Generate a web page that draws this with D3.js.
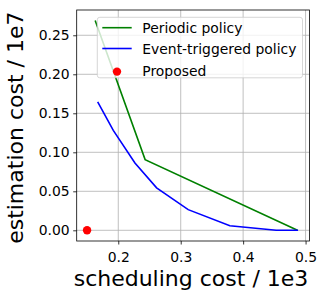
<!DOCTYPE html>
<html><head><meta charset="utf-8">
<script src="https://cdn.jsdelivr.net/npm/d3@7"></script>
<style>body{margin:0;background:#fff}svg{display:block}</style>
</head><body>
<svg id="c" width="325" height="300"></svg>
<script>
const periodicX = [0.163, 0.243, 0.487];
const periodicY = [0.269, 0.0906, 0.0];
const eventX = [0.167, 0.192, 0.2267, 0.2614, 0.312, 0.3787, 0.453, 0.488];
const eventY = [0.1645, 0.128, 0.0864, 0.0544, 0.0265, 0.0059, 0.0, 0.0];
const proposedX = [0.150];
const proposedY = [0.0];
const xTicks = [0.2, 0.3, 0.4, 0.5];
const yTicks = [0.00, 0.05, 0.10, 0.15, 0.20, 0.25];
const legendLabels = ["Periodic policy", "Event-triggered policy", "Proposed"];
const seriesColors = ["green", "blue", "red"];

const svg = d3.select("#c");
const L = 76.7, R = 309.5, T = 10, B = 241;
const x = d3.scaleLinear().domain([0.1334, 0.5063]).range([L, R]);
const y = d3.scaleLinear().domain([-0.0137, 0.2824]).range([B, T]);
const font = "DejaVu Sans, sans-serif";
const fs = 13.9;
const lfs = 22;

// grid
svg.append("g").selectAll("line").data(xTicks).join("line")
  .attr("x1", d => x(d)).attr("x2", d => x(d)).attr("y1", T).attr("y2", B)
  .attr("stroke", "#b0b0b0").attr("stroke-width", 0.8);
svg.append("g").selectAll("line").data(yTicks).join("line")
  .attr("y1", d => y(d)).attr("y2", d => y(d)).attr("x1", L).attr("x2", R)
  .attr("stroke", "#b0b0b0").attr("stroke-width", 0.8);

const line = d3.line().x(d => x(d[0])).y(d => y(d[1]));
svg.append("path").datum(d3.zip(periodicX, periodicY)).attr("d", line)
  .attr("fill", "none").attr("stroke", seriesColors[0]).attr("stroke-width", 1.6);
svg.append("path").datum(d3.zip(eventX, eventY)).attr("d", line)
  .attr("fill", "none").attr("stroke", seriesColors[1]).attr("stroke-width", 1.6);
svg.append("g").selectAll("circle").data(d3.zip(proposedX, proposedY)).join("circle")
  .attr("cx", d => x(d[0])).attr("cy", d => y(d[1])).attr("r", 4.2).attr("fill", seriesColors[2]);

// axes
const xa = svg.append("g").attr("transform", `translate(0,${B})`)
  .call(d3.axisBottom(x).tickValues(xTicks).tickFormat(d3.format(".1f")).tickSize(3.5).tickPadding(3.5));
const ya = svg.append("g").attr("transform", `translate(${L},0)`)
  .call(d3.axisLeft(y).tickValues(yTicks).tickFormat(d3.format(".2f")).tickSize(3.5).tickPadding(3.5));
[xa, ya].forEach(a => {
  a.select(".domain").remove();
  a.selectAll("line").attr("stroke", "#000").attr("stroke-width", 0.8);
  a.selectAll("text").attr("font-family", font).attr("font-size", fs).attr("fill", "#000");
});
xa.selectAll("text").attr("dy", null).attr("y", 20.7);
svg.append("rect").attr("x", L).attr("y", T).attr("width", R - L).attr("height", B - T)
  .attr("fill", "none").attr("stroke", "#000").attr("stroke-width", 0.8);

// labels
svg.append("text").attr("x", 191).attr("y", 286).attr("text-anchor", "middle")
  .attr("font-family", font).attr("font-size", lfs).attr("fill", "#000").text("scheduling cost / 1e3");
svg.append("text").attr("transform", `translate(23,127.7) rotate(-90)`).attr("text-anchor", "middle")
  .attr("font-family", font).attr("font-size", lfs).attr("fill", "#000").text("estimation cost / 1e7");

// legend
const lg = svg.append("g");
lg.append("rect").attr("x", 97.3).attr("y", 17.3).attr("width", 205.2).attr("height", 60.5)
  .attr("rx", 2.5).attr("fill", "#fff").attr("fill-opacity", 0.8).attr("stroke", "#cccccc").attr("stroke-width", 0.8);
const rows = [27.7, 48.5, 70.8];
legendLabels.forEach((lab, i) => {
  if (i < 2) {
    lg.append("line").attr("x1", 102.3).attr("x2", 131.7).attr("y1", rows[i]).attr("y2", rows[i])
      .attr("stroke", seriesColors[i]).attr("stroke-width", 1.6);
  } else {
    lg.append("circle").attr("cx", 117).attr("cy", rows[i] + 0.8).attr("r", 4.2).attr("fill", seriesColors[i]);
  }
  lg.append("text").attr("x", 142.3).attr("y", rows[i]).attr("dy", "0.36em")
    .attr("font-family", font).attr("font-size", fs).attr("fill", "#000").text(lab);
});
</script>
</body></html>
